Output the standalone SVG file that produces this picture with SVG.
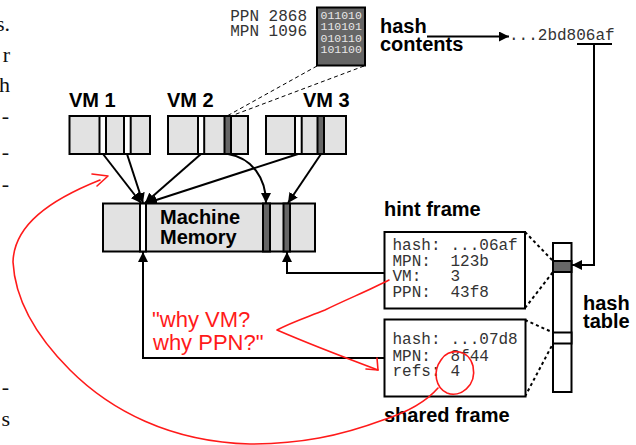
<svg xmlns="http://www.w3.org/2000/svg" width="636" height="445" viewBox="0 0 636 445">
<defs>
<marker id="ah" markerUnits="userSpaceOnUse" markerWidth="12" markerHeight="10" refX="10" refY="5" orient="auto">
<path d="M0,0 L10,5 L0,10 Z" fill="#000"/>
</marker>
<style>
.box{fill:#e2e2e2;stroke:#000;stroke-width:2}
.ws{fill:#fff;stroke:#000;stroke-width:2}
.ds{fill:#666;stroke:#000;stroke-width:2}
.fr{fill:#fff;stroke:#000;stroke-width:2}
.lbl{font-family:"Liberation Sans",Arial,sans-serif;font-weight:bold;font-size:20px;fill:#000}
.mono{font-family:"Liberation Mono","Courier New",monospace;font-size:16px;fill:#333}
.bits{font-family:"Liberation Mono","Courier New",monospace;font-size:11.5px;fill:#e8e8e8}
.cn{fill:none;stroke:#000;stroke-width:2}
.dot{fill:none;stroke:#000;stroke-width:2;stroke-dasharray:3 3}
.dash{fill:none;stroke:#000;stroke-width:1;stroke-dasharray:4 3}
.red{fill:none;stroke:#ff1a1a;stroke-width:1.6;stroke-linecap:round;stroke-linejoin:round}
.rtxt{font-family:"Liberation Sans",Arial,sans-serif;font-size:22px;fill:#ff1a1a}
.body{font-family:"Liberation Serif","Times New Roman",serif;font-size:22px;fill:#111}
</style>
</defs>
<rect width="636" height="445" fill="#fff"/>

<g id="page-text">
<text class="body" text-anchor="end"><tspan x="10" y="31">s.</tspan><tspan x="10" y="62">r</tspan><tspan x="10" y="92">h</tspan><tspan x="9" y="123">-</tspan><tspan x="9" y="159">-</tspan><tspan x="9" y="191">-</tspan></text>
<text class="body" text-anchor="end"><tspan x="9" y="394">-</tspan><tspan x="10" y="426">s</tspan></text>
</g>

<g id="connectors">
<path class="cn" d="M103,154 L141,203" marker-end="url(#ah)"/>
<path class="cn" d="M127,154 L143,203" marker-end="url(#ah)"/>
<path class="cn" d="M201,154 L145,203" marker-end="url(#ah)"/>
<path class="cn" d="M298,154 L147,203" marker-end="url(#ah)"/>
<path class="cn" d="M228,154 C252,158 266,178 266,203" marker-end="url(#ah)"/>
<path class="cn" d="M321,154 L288,203" marker-end="url(#ah)"/>
<path class="cn" d="M384,273 L287,273 L287,252" marker-end="url(#ah)"/>
<path class="cn" d="M384,358 L143,358 L143,252" marker-end="url(#ah)"/>
<path class="cn" d="M594,44 L594,265 L572,265" marker-end="url(#ah)"/>
<path class="cn" d="M427,36.5 L509,36.5" marker-end="url(#ah)"/>
<path class="cn" d="M577,44 L612,44"/>
<path class="dash" d="M317,66 L227,116"/>
<path class="dash" d="M364,66 L231,116"/>
<path class="dot" d="M525,232 L553,261"/>
<path class="dot" d="M525,308 L553,272"/>
<path class="dot" d="M525,320 L553,332.5"/>
<path class="dot" d="M525,396.5 L553,343.5"/>
</g>

<g id="page-info">
<text class="mono" text-anchor="end"><tspan x="307" y="21">PPN 2868</tspan><tspan x="307" y="36">MPN 1096</tspan></text>
</g>

<g id="hash-block">
<rect x="317" y="7.5" width="48" height="58" fill="#666" stroke="#000" stroke-width="2"/>
<text class="bits"><tspan x="320.5" y="18.5">011010</tspan><tspan x="320.5" y="30">110101</tspan><tspan x="320.5" y="41.5">010110</tspan><tspan x="320.5" y="53">101100</tspan></text>
</g>

<g id="hash-contents-label">
<text class="lbl"><tspan x="380" y="33">hash</tspan><tspan x="380" y="51">contents</tspan></text>
</g>

<g id="hash-value">
<text class="mono" x="509" y="40">...2bd806af</text>
</g>

<g id="vm1">
<text class="lbl" x="69" y="107">VM 1</text>
<rect class="box" x="69.5" y="116" width="80.5" height="38"/>
<rect class="ws" x="99.5" y="116" width="6.5" height="38"/>
<rect class="ws" x="124" y="116" width="6.7" height="38"/>
</g>

<g id="vm2">
<text class="lbl" x="167" y="107">VM 2</text>
<rect class="box" x="168" y="116" width="80" height="38"/>
<rect class="ws" x="198" y="116" width="6.2" height="38"/>
<rect class="ds" x="224.5" y="116" width="6.5" height="38"/>
</g>

<g id="vm3">
<text class="lbl" x="303" y="107">VM 3</text>
<rect class="box" x="266" y="116" width="80" height="38"/>
<rect class="ws" x="295" y="116" width="6.7" height="38"/>
<rect class="ds" x="317.5" y="116" width="6.5" height="38"/>
</g>

<g id="machine-memory">
<rect class="box" x="103" y="203.5" width="212" height="48"/>
<rect class="ws" x="140" y="203.5" width="6" height="48"/>
<rect class="ds" x="263" y="203.5" width="7" height="48"/>
<rect class="ds" x="283.5" y="203.5" width="6.5" height="48"/>
<text class="lbl"><tspan x="160" y="224">Machine</tspan><tspan x="160" y="244">Memory</tspan></text>
</g>

<g id="hint-frame">
<text class="lbl" x="384" y="216">hint frame</text>
<rect class="fr" x="384.5" y="232" width="140.5" height="76.5"/>
<text class="mono"><tspan x="392.5" y="250">hash:</tspan><tspan x="450.5" y="250">...06af</tspan><tspan x="392.5" y="265.7">MPN:</tspan><tspan x="450.5" y="265.7">123b</tspan><tspan x="392.5" y="281.3">VM:</tspan><tspan x="450.5" y="281.3">3</tspan><tspan x="392.5" y="297">PPN:</tspan><tspan x="450.5" y="297">43f8</tspan></text>
</g>

<g id="shared-frame">
<rect class="fr" x="384.5" y="319.5" width="141" height="77"/>
<text class="mono"><tspan x="392.5" y="344">hash:</tspan><tspan x="450.5" y="344">...07d8</tspan><tspan x="392.5" y="360.5">MPN:</tspan><tspan x="450.5" y="360.5">8f44</tspan><tspan x="392.5" y="376">refs:</tspan><tspan x="450.5" y="376">4</tspan></text>
<text class="lbl" x="384" y="422">shared frame</text>
</g>

<g id="hash-table">
<rect class="fr" x="553" y="243" width="18.5" height="149"/>
<rect class="ds" x="553" y="261" width="18.5" height="11"/>
<rect class="fr" x="553" y="332.5" width="18.5" height="11"/>
<text class="lbl"><tspan x="583" y="310">hash</tspan><tspan x="583" y="328">table</tspan></text>
</g>

<g id="annotations">
<text class="rtxt"><tspan x="152" y="327">"why VM?</tspan><tspan x="153" y="350">why PPN?"</tspan></text>
<path class="red" d="M389,280 C370,290 345,300 325,310 C305,318 292,322 277,330 C300,340 330,352 378,370"/>
<path class="red" d="M366,369 L378,370 L377,358"/>
<path class="red" d="M441,360 C448,348 468,348 473,366 C477,386 460,398 447,393 C436,388 432,372 441,360"/>
<path class="red" d="M438,388 C425,403 405,413 383,420 C340,436 300,444 250,444 C170,442 110,410 70,370 C35,335 15,300 13,262 C14,225 50,200 100,180"/>
<path class="red" d="M92,174 L108,176 L97,186"/>
</g>
</svg>
